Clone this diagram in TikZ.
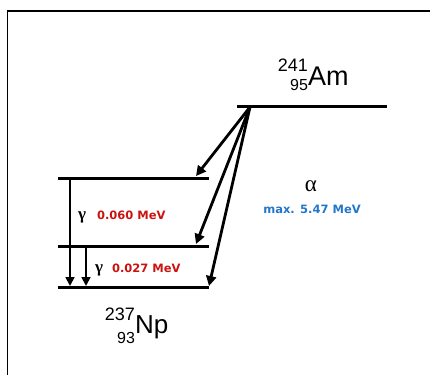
\documentclass[tikz,border=0pt]{standalone}
\usepackage{fontspec}
\setmainfont{Liberation Sans}
\newfontfamily\serifgr{Liberation Serif}
\newfontfamily\boldlab{DejaVu Sans}
\usetikzlibrary{arrows.meta}
\definecolor{labred}{RGB}{204,17,17}
\definecolor{labblue}{RGB}{34,119,204}
\newcommand{\fsz}[1]{\fontsize{#1}{#1}\selectfont}
\tikzset{
  level/.style={line width=3pt},
  alphaarrow/.style={line width=2.8pt,-{Triangle[length=10pt,width=10pt]}},
  gammaarrow/.style={line width=1.8pt,-{Triangle[length=9pt,width=9pt]}},
  frameline/.style={line width=1.8pt},
  lab/.style={inner sep=0pt,outer sep=0pt},
}
\begin{document}
\begin{tikzpicture}[x=1pt,y=-1pt]
\useasboundingbox (0,0) rectangle (430,374);
% frame
\draw[frameline] (7.5,380) -- (7.5,10.8) -- (440,10.8);
% levels
\coordinate (amw) at (237,107); \coordinate (ame) at (387,107);
\coordinate (l1w) at (58,178);  \coordinate (l1e) at (209,178);
\coordinate (l2w) at (58,246);  \coordinate (l2e) at (209,246);
\coordinate (l0w) at (58,287);  \coordinate (l0e) at (209,287);
\draw[level] (amw) -- (ame);
\draw[level] (l1w) -- (l1e);
\draw[level] (l2w) -- (l2e);
\draw[level] (l0w) -- (l0e);
% alpha arrows
\coordinate (src) at (250,107);
\coordinate (t1) at (196,176);
\coordinate (t2) at (196,244);
\coordinate (t3) at (209,286);
\draw[alphaarrow] (src) -- (t1);
\draw[alphaarrow] (src) -- (t2);
\draw[alphaarrow] (src) -- (t3);
% gamma arrows
\coordinate (g1s) at (70,178); \coordinate (g1e) at (70,286);
\coordinate (g2s) at (86,246); \coordinate (g2e) at (86,286);
\draw[gammaarrow] (g1s) -- (g1e);
\draw[gammaarrow] (g2s) -- (g2e);
% labels
\node[lab,anchor=base west] (amlab) at (308,86)
  {\makebox[0pt][r]{\raisebox{14pt}{\fsz{18}241}}\makebox[0pt][r]{\raisebox{-5pt}{\fsz{16}95}}\fsz{27}Am};
\node[lab,anchor=base west] (nplab) at (135,333)
  {\makebox[0pt][r]{\raisebox{13pt}{\fsz{18}237}}\makebox[0pt][r]{\raisebox{-10pt}{\fsz{16}93}}\fsz{26}Np};
\node[lab,anchor=base] (alab) at (311,191) {\serifgr\fsz{23}α};
\node[lab,anchor=base] (amax) at (312,213) {\boldlab\bfseries\fsz{11.5}\color{labblue}max. 5.47 MeV};
\node[lab,anchor=base west] (gl1) at (78,219) {\serifgr\bfseries\fsz{17}γ};
\node[lab,anchor=base west] (el1) at (97,219) {\boldlab\bfseries\fsz{11.5}\color{labred}0.060 MeV};
\node[lab,anchor=base west] (gl2) at (95,272) {\serifgr\bfseries\fsz{17}γ};
\node[lab,anchor=base west] (el2) at (112,272) {\boldlab\bfseries\fsz{11.5}\color{labred}0.027 MeV};
\end{tikzpicture}
\end{document}
